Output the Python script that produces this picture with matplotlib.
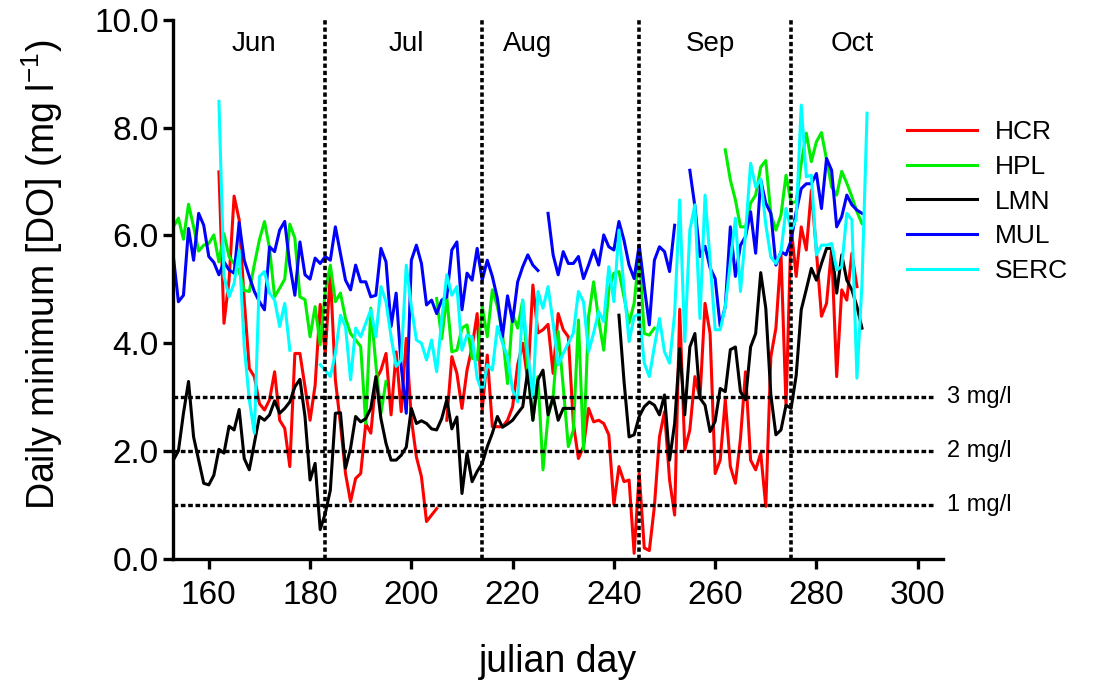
import numpy as np
import matplotlib
matplotlib.use("Agg")
import matplotlib.pyplot as plt

plt.rcParams['font.family'] = ['Liberation Sans', 'DejaVu Sans']

# julian days 153..290
days = np.arange(153, 291)
nan = np.nan

# daily minimum DO (mg/l), one value per day from day 153, nan = no data
hcr = [nan]*9 + [7.18, 4.37, 5.17, 6.73, 6.29, 4.8, 3.53, 3.38, 2.88, 2.76, 2.95, 3.47, 2.57, 2.42, 1.71,
       3.81, 3.81, 3.19, 2.57, 3.22, 4.72, 3.81, 5.3, 3.32, 2.5, 1.58, 1.06, 1.49, 1.58, 2.51, 2.33,
       3.32, 3.5, 3.81, 2.67, 3.84, 2.73, 4.09, 2.6, 1.89, 1.52, 0.69, 0.81, 0.93, nan,
       2.57, 3.75, 3.44, 2.79, 3.5, 3.93, 4.55, 2.76, 3.78, 2.45, 2.45, 2.45, 2.57, 2.82, 3.6, 4.0,
       3.3, 5.08, 4.19, 4.25, 4.35, 3.44, 4.55, 4.25, 4.12, 2.51, 1.86, 2.08, 2.79, 2.54, 2.57, 2.51,
       2.3, 1.0, 1.71, 1.43, 1.46, 0.1, 1.58, 0.2, 0.15, 0.97, 2.26, 2.73, 1.46, 0.81, 4.63, 2.02,
       2.39, 3.38, 2.98, 4.74, 4.18, 1.58, 1.83, 2.95, 1.71, 1.4, 2.23, 3.47, 1.83, 1.65, 1.96, 0.97,
       3.75, 4.28, 5.67, 2.82, 6.16, 5.24, 6.16, 5.73, 6.84, 5.7, 4.5, 4.74, 5.76, 3.38, 4.99, 4.8,
       5.67, 5.05, nan, nan]
hpl = [6.16, 6.32, 5.93, 6.58, 6.16, 5.71, 5.82, 5.85, 6.01, 5.51, 6.03, 5.61, 5.48, 5.33, 4.98, 4.96,
       5.46, 5.92, 6.26, 5.76, 4.86, 5.02, 5.19, 6.21, 5.95, 4.86, 4.81, 4.12, 4.68, 3.97, 4.96, 5.45,
       4.77, 4.93, 4.46, 4.18, 4.06, 3.94, 2.51, 4.65, 3.6, 2.7, 3.29] + [nan]*9 + \
      [4.83, 4.08, 4.86, 3.84, 3.87, 4.28, 4.34, 3.72, 3.69, 4.68, 4.12, 4.99, 4.68, 4.18, 3.25, 4.55,
       4.28, 4.8, 3.5, 2.57, 3.38, 1.65, 2.64, 3.0, 4.22, 3.19, 2.08, 2.39, 4.43, 2.02, 4.49, 5.14,
       4.43, 3.87, 4.99, 5.3, 5.33, 4.86, 4.37, 4.74, 5.67, 4.18, 4.15, 4.28] + [nan]*13 + \
      [7.59, 7.03, 6.66, 6.16, 6.16, 6.6, 6.75, 7.27, 7.39, 6.4, 6.1, 6.38, 7.12, 6.6, 6.63, 7.34,
       7.9, 7.37, 7.74, 7.91, 7.4, 6.9, 6.75, 7.19, 6.97, 6.72, 6.44, 6.22, nan]
lmn = [1.83, 2.0, 2.7, 3.29, 2.26, 1.83, 1.4, 1.37, 1.55, 2.03, 1.96, 2.46, 2.39, 2.77, 1.86, 1.65,
       2.14, 2.64, 2.57, 2.67, 2.93, 2.7, 2.79, 2.91, 3.19, 3.33, 2.64, 1.46, 1.77, 0.54, 0.84, 1.27,
       2.7, 2.71, 1.68, 2.05, 2.64, 2.54, 2.6, 2.79, 3.38, 2.6, 2.14, 1.83, 1.83, 1.92, 2.07, 2.79,
       2.51, 2.56, 2.51, 2.41, 2.39, 2.6, 2.95, 2.41, 2.63, 1.21, 1.96, 1.43, 1.62, 1.77, 2.08, 2.33,
       2.64, 2.44, 2.5, 2.57, 2.7, 2.82, 3.5, 2.57, 3.32, 3.5, 2.67, 3.0, 2.57, 2.79, 2.79, 2.79] + \
      [nan]*8 + \
      [4.52, 3.3, 2.26, 2.3, 2.64, 2.82, 2.91, 2.85, 2.67, 3.04, 1.83, 2.51, 3.9, 2.67, 3.93, 4.18,
       2.98, 2.85, 2.36, 2.55, 3.16, 3.1, 3.88, 3.93, 3.1, 2.95, 3.93, 4.18, 5.31, 4.65, 3.04, 2.3,
       2.39, 2.85, 2.79, 3.4, 4.62, 5.0, 5.39, 5.17, 5.48, 5.76, 5.76, 4.93, 5.64, 5.17, 4.99, 4.68,
       4.28, nan]
mul = [5.61, 4.77, 4.89, 6.13, 5.54, 6.41, 6.19, 5.61, 5.5, 5.27, 5.51, 5.36, 5.3, 6.24, 5.54, 5.24,
       4.96, 4.77, 4.62, 5.79, 5.7, 6.1, 6.26, 5.45, 4.89, 5.88, 5.27, 5.19, 5.58, 5.48, 5.61, 5.54,
       6.16, 5.66, 5.17, 4.99, 5.45, 5.14, 5.14, 4.86, 4.89, 5.76, 5.51, 4.31, 4.93, 3.57, 2.7, 5.54,
       5.82, 5.48, 4.71, 4.8, 4.55, 4.8, 4.86, 5.73, 5.88, 4.62, 5.3, 5.17, 5.76, 5.17, 5.54, 5.24,
       4.83, 4.12, 4.88, 4.4, 5.14, 5.42, 5.64, 5.45, 5.35, nan, 6.41, 5.64, 5.27, 5.7, 5.48, 5.48,
       5.61, 5.2, 5.45, 5.73, 5.45, 6.01, 5.79, 5.73, 6.26, 5.91, 5.45, 5.2, 5.82, 5.05, 4.34, 5.54,
       5.79, 5.7, 5.33, 6.19, nan, nan, 7.21, 6.54, 5.61, 5.8, 5.4, 5.2, 4.31, 4.68, 6.16, 5.24,
       5.82, 5.98, 6.44, 5.67, 7.03, 6.6, 6.41, 5.45, 5.7, 5.64, 5.91, 6.44, 6.87, 6.96, 6.96, 7.15,
       6.5, 7.43, 7.21, 6.16, 6.35, 6.75, 6.57, 6.47, 6.41, nan]
serc = [nan]*9 + [8.49, 5.24, 4.86, 5.11, 5.73, 3.94, 2.95, 2.33, 5.24, 5.33, 4.93, 4.8, 4.31, 4.74, 3.87] + \
       [nan]*5 + \
       [3.6, 3.5, 3.38, 3.81, 4.52, 4.31, 3.32, 4.28, 4.12, 4.37, 4.62, 4.12, 5.05, 4.77, 4.12, 3.57,
        3.69, 5.45, 4.68, 4.06, 4.0, 3.69, 4.06, 3.47, 4.43, 5.27, 4.89, 5.05, 3.87, 4.15, 4.12, 3.35,
        3.1, 3.6, 3.5, 4.31, 4.0, 3.75, 3.13, 2.91, 4.8, 3.81, 3.0, 4.96, 4.65, 5.05, 4.37, 3.6,
        3.81, 4.0, 4.19, 4.96, 4.77, 3.84, 4.19, 4.59, 4.4, 5.42, 4.77, 6.1, 5.02, 4.03, 4.49, 4.55,
        3.63, 3.38, 3.94, 4.46, 3.84, 3.63, 4.55, 6.66, 4.03, 6.1, 6.57, 4.46, 6.75, 5.54, 4.25, 4.25,
        4.68, 5.5, 6.32, 4.96, 6.04, 7.34, 6.9, 7.05, 6.2, 5.6, 5.48, 5.7, 6.5, 6.1, 6.3, 8.42,
        7.09, 7.12, 5.64, 5.82, 5.82, 5.85, 5.36, 5.42, 6.41, 6.29, 3.35, 5.11, 8.27]

names = ["HCR", "HPL", "LMN", "MUL", "SERC"]
colors = ["#ff0000", "#00ee00", "#000000", "#0000ff", "#00ffff"]
series = [hcr, hpl, lmn, mul, serc]

month_names = ["Jun", "Jul", "Aug", "Sep", "Oct"]
month_pos = [169, 199, 223, 259, 287]
month_bounds = [183, 214, 245, 275]
limits = [3, 2, 1]

fig = plt.figure(figsize=(10.95, 6.82), dpi=100)
ax = fig.add_axes([0.1583, 0.1808, 0.7029, 0.7899])

for name, col, vals in zip(names, colors, series):
    ax.plot(days, vals, color=col, lw=2.2, label=name)

for b in month_bounds:
    ax.plot([b, b], [0, 10], color="black", lw=2.6, ls=(0, (1.2, 0.8)), zorder=5)
for lv in limits:
    ax.plot([153, 303.2], [lv, lv], color="black", lw=2.4, ls=(0, (1.4, 0.8)), clip_on=False, zorder=5)
    ax.text(305.8, lv, "%d mg/l" % lv, fontsize=17, va="center", ha="left")

for m, p in zip(month_names, month_pos):
    ax.text(p, 9.55, m, fontsize=20, ha="center", va="center")

ax.set_xlim(153, 305)
ax.set_ylim(0, 10)
ax.set_xticks(range(160, 301, 20))
ax.set_yticks(np.arange(0, 10.1, 2))
ax.set_yticklabels(["%.1f" % v for v in np.arange(0, 10.1, 2)])
ax.tick_params(labelsize=24, width=2.4, length=7, direction="out")
ax.tick_params(axis="x", pad=8)
ax.spines["top"].set_visible(False)
ax.spines["right"].set_visible(False)
ax.spines["left"].set_linewidth(2.4)
ax.spines["bottom"].set_linewidth(2.4)
ax.set_xlabel("julian day", fontsize=27, labelpad=24)
ax.set_ylabel("Daily minimum [DO] (mg l$^{\\mathregular{-1}}$)", fontsize=27)
ax.yaxis.set_label_coords(-0.141, 0.527)

leg = ax.legend(loc="upper left", bbox_to_anchor=(0.940, 0.834), frameon=False, fontsize=19,
                handlelength=2.65, handletextpad=0.65, labelspacing=0.41, borderaxespad=0)

fig.savefig("out.png", dpi=100)
